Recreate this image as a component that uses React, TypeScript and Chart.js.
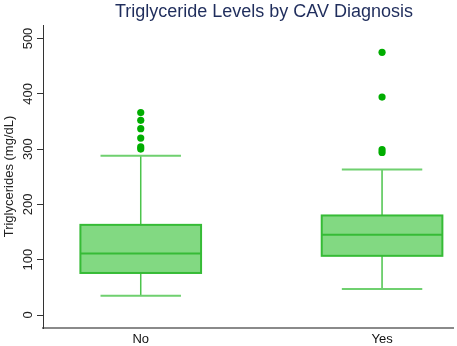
import React, { useEffect, useRef } from "react";
import { Chart, registerables } from "chart.js";

Chart.register(...registerables);

const categories = ["No", "Yes"];
const whiskerLow = [35, 47];
const quartile1 = [76, 107];
const medians = [111, 145];
const quartile3 = [163, 180];
const whiskerHigh = [288, 263];
const outliersNo = [300, 304, 320, 337, 352, 366];
const outliersYes = [294, 299, 394, 475];
const yTicks = [0, 100, 200, 300, 400, 500];

const FONT = "'Liberation Sans', Arial, sans-serif";

const boxPlugin = {
  id: "boxDraw",
  beforeDatasetsDraw(chart: any) {
    const { ctx, scales } = chart;
    const xs = scales.x;
    const ys = scales.y;
    categories.forEach((_, i) => {
      const xc = xs.getPixelForValue(i + 1);
      const halfBox = (xs.getPixelForValue(i + 1.25) - xs.getPixelForValue(i + 0.75)) / 2;
      const halfCap = (xs.getPixelForValue(i + 1 + 1 / 6) - xs.getPixelForValue(i + 1 - 1 / 6)) / 2;
      const yq1 = ys.getPixelForValue(quartile1[i]);
      const yq3 = ys.getPixelForValue(quartile3[i]);
      const ymed = ys.getPixelForValue(medians[i]);
      const ylo = ys.getPixelForValue(whiskerLow[i]);
      const yhi = ys.getPixelForValue(whiskerHigh[i]);
      ctx.save();
      // whiskers
      ctx.strokeStyle = "#4cc44c";
      ctx.lineWidth = 1.5;
      ctx.beginPath();
      ctx.moveTo(xc, yq3);
      ctx.lineTo(xc, yhi);
      ctx.moveTo(xc, yq1);
      ctx.lineTo(xc, ylo);
      ctx.stroke();
      // caps
      ctx.strokeStyle = "#6fd06f";
      ctx.lineWidth = 2;
      ctx.beginPath();
      ctx.moveTo(xc - halfCap, yhi);
      ctx.lineTo(xc + halfCap, yhi);
      ctx.moveTo(xc - halfCap, ylo);
      ctx.lineTo(xc + halfCap, ylo);
      ctx.stroke();
      // box
      ctx.fillStyle = "#82d982";
      ctx.fillRect(xc - halfBox, yq3, halfBox * 2, yq1 - yq3);
      ctx.strokeStyle = "#36bb36";
      ctx.lineWidth = 2;
      ctx.strokeRect(xc - halfBox, yq3, halfBox * 2, yq1 - yq3);
      // median
      ctx.beginPath();
      ctx.moveTo(xc - halfBox, ymed);
      ctx.lineTo(xc + halfBox, ymed);
      ctx.stroke();
      ctx.restore();
    });
  },
  afterDraw(chart: any) {
    const { ctx, scales, chartArea } = chart;
    const ys = scales.y;
    ctx.save();
    ctx.fillStyle = "#222";
    ctx.font = `13px ${FONT}`;
    ctx.textAlign = "center";
    ctx.textBaseline = "middle";
    yTicks.forEach((v) => {
      const py = ys.getPixelForValue(v);
      ctx.save();
      ctx.translate(28, py);
      ctx.rotate(-Math.PI / 2);
      ctx.fillText(String(v), 0, 0);
      ctx.restore();
    });
    // y title
    ctx.save();
    ctx.translate(9, (chartArea.top + chartArea.bottom) / 2);
    ctx.rotate(-Math.PI / 2);
    ctx.fillText("Triglycerides (mg/dL)", 0, 0);
    ctx.restore();
    // chart title
    ctx.fillStyle = "#1f2d5c";
    ctx.font = `18px ${FONT}`;
    ctx.textBaseline = "alphabetic";
    ctx.fillText("Triglyceride Levels by CAV Diagnosis", 264, 17);
    ctx.restore();
  },
};

export default function App() {
  const ref = useRef<HTMLCanvasElement>(null);
  useEffect(() => {
    if (!ref.current) return;
    const points = [
      ...outliersNo.map((v) => ({ x: 1, y: v })),
      ...outliersYes.map((v) => ({ x: 2, y: v })),
    ];
    const chart = new Chart(ref.current, {
      type: "scatter",
      data: {
        datasets: [
          {
            data: points,
            pointRadius: 3.6,
            pointBackgroundColor: "#00ad00",
            pointBorderColor: "#00ad00",
            pointBorderWidth: 0,
          },
        ],
      },
      options: {
        responsive: false,
        animation: false,
        layout: { padding: { top: 25, right: 0, left: 0, bottom: 0 } },
        plugins: { legend: { display: false }, tooltip: { enabled: false }, title: { display: false } },
        scales: {
          x: {
            type: "linear",
            min: 0.595,
            max: 2.294,
            afterBuildTicks: (s: any) => {
              s.ticks = categories.map((_, i) => ({ value: i + 1 }));
            },
            afterFit: (s: any) => {
              s.height = 18;
            },
            ticks: {
              callback: (v: any) => categories[Math.round(v) - 1] ?? "",
              color: "#111",
              font: { size: 13, family: FONT },
              padding: 4,
              maxRotation: 0,
              minRotation: 0,
            },
            grid: { display: false, drawTicks: false },
            border: { display: true, color: "#8a8a8a", width: 2 },
          },
          y: {
            type: "linear",
            min: -23.5,
            max: 524.4,
            afterBuildTicks: (s: any) => {
              s.ticks = yTicks.map((v) => ({ value: v }));
            },
            afterFit: (s: any) => {
              s.width = 43;
            },
            ticks: { display: false },
            grid: { drawOnChartArea: false, drawTicks: true, tickLength: 6, color: "#333", lineWidth: 1 },
            border: { display: true, color: "#333", width: 1 },
          },
        },
      },
      plugins: [boxPlugin],
    });
    return () => chart.destroy();
  }, []);
  return (
    <div style={{ position: "absolute", left: 0, top: 0, width: 457, height: 346, background: "#fff" }}>
      <canvas ref={ref} width={457} height={346} />
    </div>
  );
}
